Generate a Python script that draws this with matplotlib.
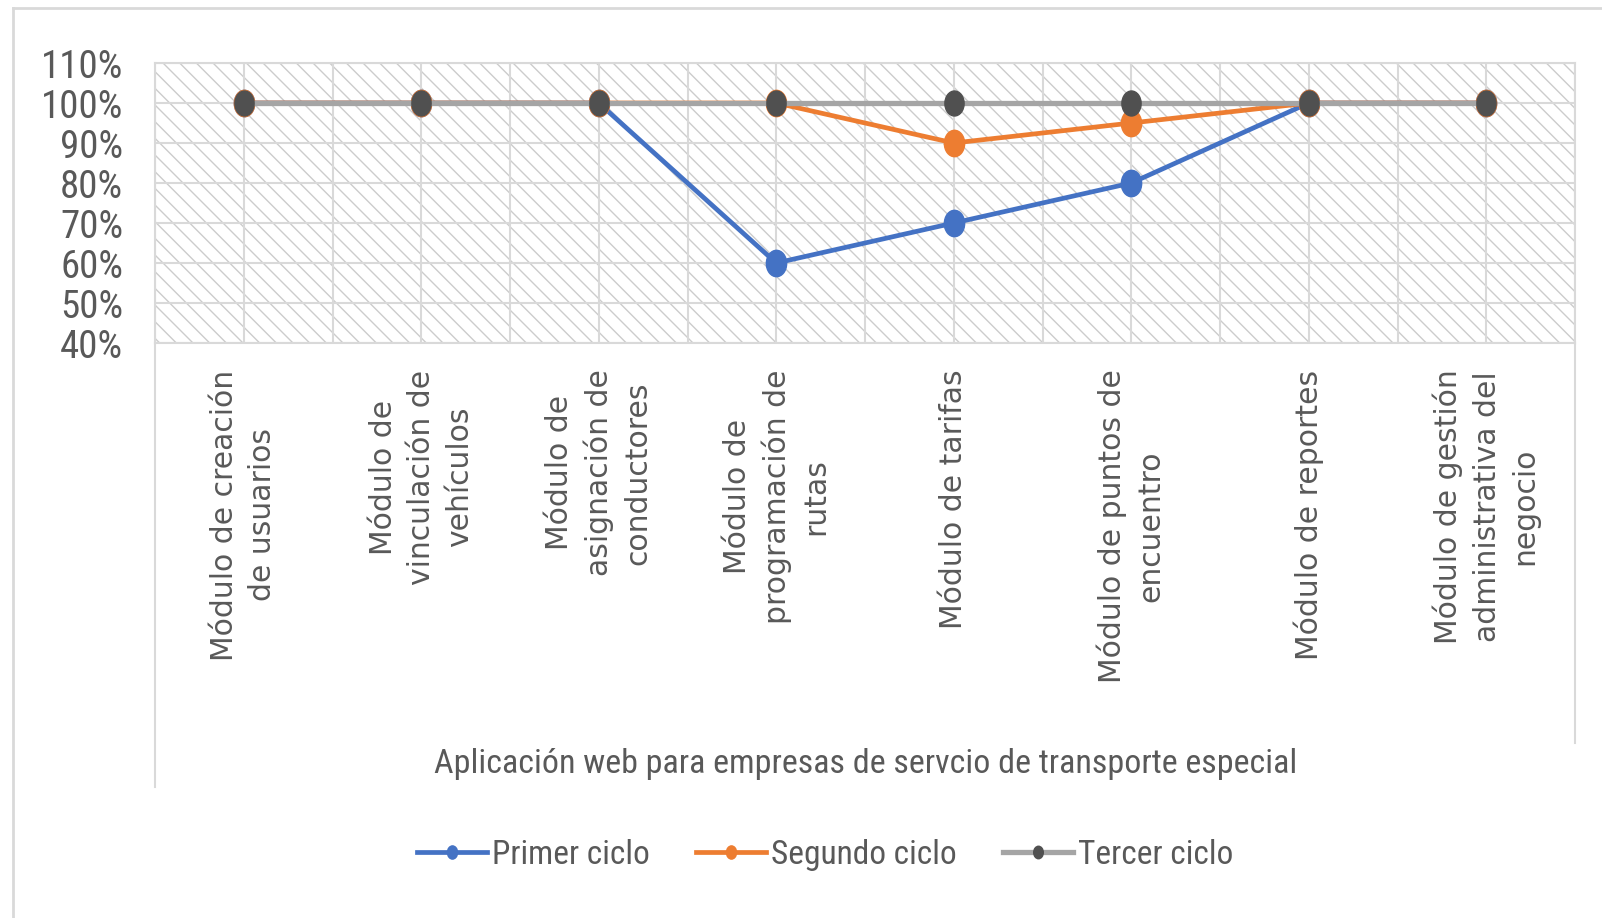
import numpy as np
import matplotlib
matplotlib.use("Agg")
import matplotlib.pyplot as plt
from matplotlib.patches import Rectangle
from matplotlib.lines import Line2D
from matplotlib.path import Path
from matplotlib.transforms import Affine2D
from matplotlib.ticker import FuncFormatter, MultipleLocator

# module names (line breaks as wrapped under the axis)
modulos = [
    "Módulo de creación\nde usuarios",
    "Módulo de\nvinculación de\nvehículos",
    "Módulo de\nasignación de\nconductores",
    "Módulo de\nprogramación de\nrutas",
    "Módulo de tarifas",
    "Módulo de puntos de\nencuentro",
    "Módulo de reportes",
    "Módulo de gestión\nadministrativa del\nnegocio",
]
primer_ciclo = [1.00, 1.00, 1.00, 0.60, 0.70, 0.80, 1.00, 1.00]
segundo_ciclo = [1.00, 1.00, 1.00, 1.00, 0.90, 0.95, 1.00, 1.00]
tercer_ciclo = [1.00, 1.00, 1.00, 1.00, 1.00, 1.00, 1.00, 1.00]
series_names = ["Primer ciclo", "Segundo ciclo", "Tercer ciclo"]
titulo_eje = "Aplicación web para empresas de servcio de transporte especial"

narrow = ["Roboto Condensed", "DejaVu Sans"]
txt_color = "#595959"
grid_color = "#d9d9d9"

plt.rcParams["hatch.linewidth"] = 1.0

fig = plt.figure(figsize=(16.02, 9.18), dpi=100)
ax = fig.add_axes([155 / 1602, 1 - 343 / 918, 1420 / 1602, 280 / 918])

# hatched plot area
ax.set_facecolor("white")
ax.add_patch(Rectangle((0, 0), 1, 1, transform=ax.transAxes, facecolor="white",
                       edgecolor="#cccccc", hatch="\\\\", lw=0, zorder=0.1))

# slightly tall ellipse markers
ell = Path.unit_circle().transformed(Affine2D().scale(1.0, 1.3))

x = np.arange(len(modulos))
ax.plot(x, primer_ciclo, color="#4472C4", lw=3.4, marker=ell, ms=19,
        label=series_names[0], zorder=3)
ax.plot(x, segundo_ciclo, color="#ED7D31", lw=3.4, marker=ell, ms=19,
        label=series_names[1], zorder=4)
ax.plot(x, tercer_ciclo, color="#A5A5A5", lw=3.8, marker=ell, ms=18,
        mfc="#505050", mec="#505050", label=series_names[2], zorder=5)

ax.set_xlim(-0.5, len(modulos) - 0.5)
ax.set_ylim(0.4, 1.1)
ax.yaxis.set_major_locator(MultipleLocator(0.1))
ax.yaxis.set_major_formatter(FuncFormatter(lambda v, p: f"{v * 100:.0f}%"))

ax.set_xticks(x)
ax.set_xticks(np.arange(-0.5, len(modulos), 1.0), minor=True)
ax.set_xticklabels(modulos, rotation=90, ha="center", va="top",
                   fontsize=21.5, color=txt_color, linespacing=1.4,
                   family="DejaVu Sans")
for lbl in ax.get_xticklabels():
    lbl.set_multialignment("center")
ax.tick_params(axis="x", which="both", length=0, pad=19)
ax.tick_params(axis="y", length=0, pad=23, labelsize=28, labelcolor=txt_color)
for lbl in ax.get_yticklabels():
    lbl.set_family(narrow)

ax.set_axisbelow(True)
ax.grid(True, which="both", color=grid_color, lw=1.5, zorder=0.5)

for s in ax.spines.values():
    s.set_color(grid_color)
    s.set_linewidth(1.5)

# box lines around the category labels
ax.add_line(Line2D([0, 0], [0, -1.585], transform=ax.transAxes,
                   color=grid_color, lw=1.5, clip_on=False))
ax.add_line(Line2D([1, 1], [0, -1.43], transform=ax.transAxes,
                   color=grid_color, lw=1.5, clip_on=False))

fig.text(866 / 1602, 1 - 764 / 918, titulo_eje, ha="center", va="center",
         fontsize=24.5, color=txt_color, family=narrow)

leg = fig.legend(loc="center", bbox_to_anchor=(825 / 1602, 1 - 855 / 918),
                 ncol=3, frameon=False, markerscale=0.5,
                 handlelength=2.1, handletextpad=0.15, columnspacing=1.4,
                 prop={"family": narrow, "size": 24})
for t in leg.get_texts():
    t.set_color(txt_color)

# outer chart frame (left and top edges visible)
fig.add_artist(Line2D([13 / 1602, 13 / 1602], [0, 1 - 8 / 918],
                      transform=fig.transFigure, color=grid_color, lw=2))
fig.add_artist(Line2D([13 / 1602, 1], [1 - 8 / 918, 1 - 8 / 918],
                      transform=fig.transFigure, color=grid_color, lw=2))

fig.savefig("out.png", dpi=100, facecolor="white")
